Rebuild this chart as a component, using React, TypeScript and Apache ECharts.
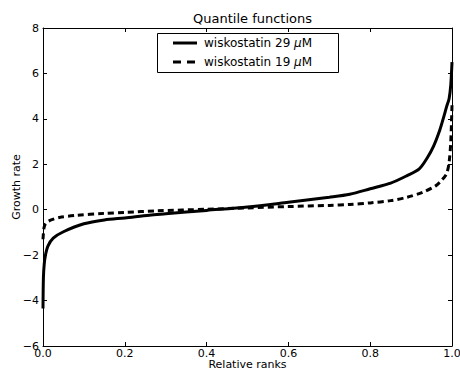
import React, { useEffect, useRef } from "react";
import * as echarts from "echarts";

const titleText = "Quantile functions";
const xName = "Relative ranks";
const yName = "Growth rate";
const seriesNames = ["wiskostatin 29 μM", "wiskostatin 19 μM"];

const ranks29 = [0, 0.001, 0.003, 0.006, 0.012, 0.025, 0.05, 0.1, 0.15, 0.2, 0.26, 0.3, 0.4, 0.5, 0.6, 0.7, 0.75, 0.8, 0.85, 0.89, 0.92, 0.94, 0.955, 0.97, 0.98, 0.987, 0.993, 0.997, 1.0];
const values29 = [-4.35, -3.0, -2.4, -2.0, -1.6, -1.25, -0.97, -0.62, -0.45, -0.36, -0.24, -0.18, -0.03, 0.12, 0.33, 0.55, 0.68, 0.92, 1.17, 1.5, 1.8, 2.3, 2.8, 3.5, 4.1, 4.55, 4.9, 5.5, 6.5];

const ranks19 = [0, 0.002, 0.005, 0.01, 0.02, 0.04, 0.08, 0.15, 0.2, 0.28, 0.4, 0.5, 0.6, 0.7, 0.75, 0.8, 0.85, 0.89, 0.93, 0.96, 0.975, 0.987, 0.993, 0.997, 1.0];
const values19 = [-1.3, -0.85, -0.65, -0.55, -0.45, -0.34, -0.25, -0.16, -0.12, -0.05, 0.02, 0.08, 0.14, 0.19, 0.23, 0.3, 0.4, 0.55, 0.78, 1.05, 1.3, 1.6, 2.1, 3.0, 4.6];

const FONT = "DejaVu Sans";
const DASH = [6, 4];
const LEGEND_DASH = [8, 6];

export default function App() {
  const ref = useRef<HTMLDivElement>(null);
  useEffect(() => {
    if (!ref.current) return;
    const chart = echarts.init(ref.current, undefined, { renderer: "svg" });
    const pairs = (r: number[], v: number[]) => r.map((x, i) => [x, v[i]]);
    const fmtY = (v: number) => (v < 0 ? "\u2212" + Math.abs(v) : String(v));
    const legendText = (name: string) => {
      const parts = name.split("μ");
      return parts[0] + "{mu|μ}" + parts[1];
    };
    const axisCommon = {
      axisLine: { show: true, onZero: false, lineStyle: { color: "#000", width: 1 } },
      axisTick: { show: true, inside: true, length: 4, lineStyle: { color: "#000", width: 1 } },
      splitLine: { show: false },
    };
    const legendLine = (i: number, y: number) => ({
      type: "line",
      z: 11,
      shape: { x1: 173, y1: y, x2: 197, y2: y },
      style: i === 0 ? { stroke: "#000", lineWidth: 3 } : { stroke: "#000", lineWidth: 3, lineDash: LEGEND_DASH },
    });
    const legendLabel = (i: number, y: number) => ({
      type: "text",
      z: 11,
      x: 204,
      y: y,
      style: {
        text: legendText(seriesNames[i]),
        fontFamily: FONT,
        fontSize: 12,
        fill: "#000",
        verticalAlign: "middle",
        rich: { mu: { fontFamily: FONT, fontStyle: "italic", fontSize: 12, fill: "#000" } },
      },
    });
    chart.setOption({
      animation: false,
      backgroundColor: "#fff",
      title: {
        text: titleText,
        left: 247.5,
        textAlign: "center",
        top: 7,
        textStyle: { fontFamily: FONT, fontSize: 13, fontWeight: "normal", color: "#000" },
      },
      graphic: [
        {
          type: "rect",
          z: 10,
          shape: { x: 157.5, y: 33.5, width: 181, height: 39 },
          style: { fill: "#fff", stroke: "#000", lineWidth: 1 },
        },
        legendLine(0, 43),
        legendLabel(0, 43),
        legendLine(1, 62),
        legendLabel(1, 62),
      ],
      grid: { left: 43, right: 8, top: 28, bottom: 25, outerBoundsMode: "none", containLabel: false },
      xAxis: [
        {
          type: "value",
          min: 0,
          max: 1,
          interval: 0.2,
          name: xName,
          nameLocation: "middle",
          nameGap: 13,
          nameMoveOverlap: false,
          nameTextStyle: { fontFamily: FONT, fontSize: 11, color: "#000" },
          axisLabel: {
            fontFamily: FONT,
            fontSize: 11,
            color: "#000",
            margin: 2,
            formatter: (v: number) => v.toFixed(1),
          },
          ...axisCommon,
        },
        {
          type: "value",
          position: "top",
          min: 0,
          max: 1,
          interval: 0.2,
          axisLabel: { show: false },
          ...axisCommon,
        },
      ],
      yAxis: [
        {
          type: "value",
          min: -6,
          max: 8,
          interval: 2,
          name: yName,
          nameLocation: "middle",
          nameGap: 21,
          nameMoveOverlap: false,
          nameTextStyle: { fontFamily: FONT, fontSize: 11, color: "#000" },
          axisLabel: { fontFamily: FONT, fontSize: 11, color: "#000", margin: 4, formatter: fmtY },
          ...axisCommon,
        },
        {
          type: "value",
          position: "right",
          min: -6,
          max: 8,
          interval: 2,
          axisLabel: { show: false },
          ...axisCommon,
        },
      ],
      series: [
        {
          name: seriesNames[0],
          type: "line",
          data: pairs(ranks29, values29),
          showSymbol: false,
          symbol: "none",
          smooth: 0.3,
          lineStyle: { color: "#000", width: 3 },
          itemStyle: { color: "#000" },
        },
        {
          name: seriesNames[1],
          type: "line",
          data: pairs(ranks19, values19),
          showSymbol: false,
          symbol: "none",
          smooth: 0.3,
          lineStyle: { color: "#000", width: 3, type: DASH },
          itemStyle: { color: "#000" },
        },
      ],
    });
    return () => chart.dispose();
  }, []);
  return <div ref={ref} style={{ width: 460, height: 371, position: "absolute", left: 0, top: 0 }} />;
}
